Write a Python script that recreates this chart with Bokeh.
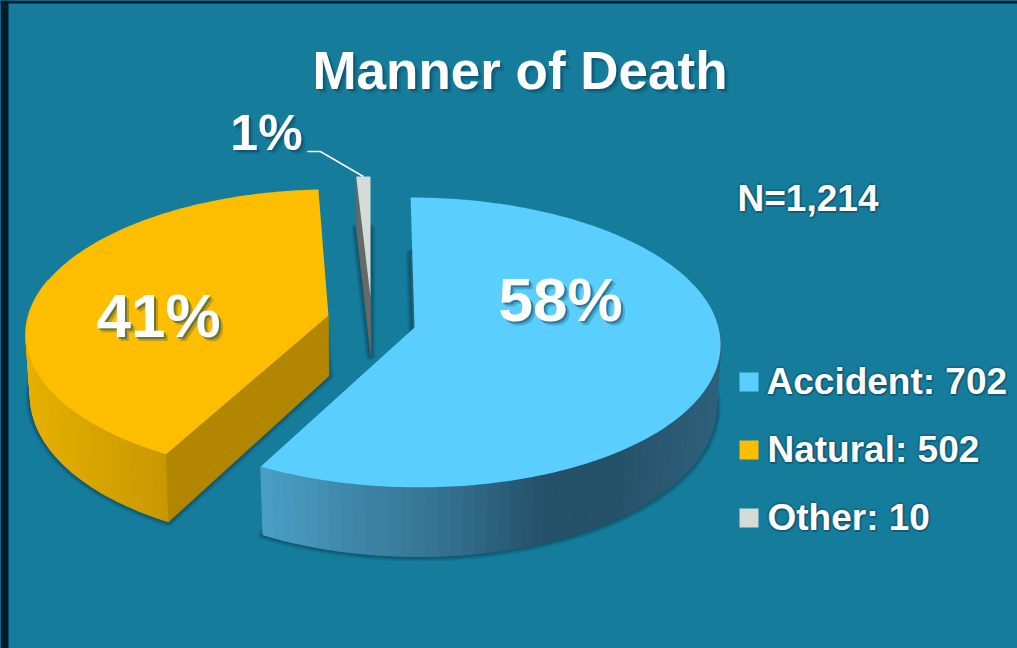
from bokeh.plotting import figure
from bokeh.embed import file_html
from bokeh.resources import INLINE
from bokeh.models import Range1d, GlobalInlineStyleSheet
from bokeh.core.properties import value
import numpy as np

# ---- data ----
title = "Manner of Death"
note = "N=1,214"
categories = ["Accident", "Natural", "Other"]
counts = [702, 502, 10]
percent_labels = ["58%", "41%", "1%"]
legend_labels = ["Accident: 702", "Natural: 502", "Other: 10"]
top_colors = ["#5ACEFF", "#FDBD00", "#D3DCD6"]

BG = "#157C9C"
EDGE = "#001C2C"
FONT = value("Liberation Sans")
W, H = 1017, 648

# ---- projection of the exploded 3D pie (pixel space of the page) ----
geom = {
    "Accident": dict(cx=414, cy=327, rx=304, ry=143.4, k=0.103, shear=0.03, depth=62),
    "Natural":  dict(cx=328, cy=315, rx=300, ry=141.0, k=0.118, shear=-0.03, depth=60.5),
    "Other":    dict(cx=370, cy=297, rx=305, ry=133.5, k=0.103, shear=0.0, depth=58),
}
RING = 0.985


def top_pt(g, t):
    w = 1 + g["k"] * np.cos(t)
    dy = -g["ry"] * np.cos(t) / w
    dx = g["rx"] * np.sin(t) / w + g["shear"] * dy
    return g["cx"] + dx, g["cy"] + dy


def bottom_pt(g, t):
    x, y = top_pt(g, t)
    w = 1 + g["k"] * np.cos(t)
    return g["cx"] + (x - g["cx"]) * RING, y + g["depth"] / w


def hex_rgb(h):
    return np.array([int(h[i:i + 2], 16) for i in (1, 3, 5)], float)


def ramp(stops, x):
    xs = [s[0] for s in stops]
    cols = np.array([hex_rgb(s[1]) for s in stops])
    rgb = [np.interp(x, xs, cols[:, i]) for i in range(3)]
    return "#%02x%02x%02x" % tuple(int(round(c)) for c in rgb)


p = figure(width=W, height=H, x_range=Range1d(0, W), y_range=Range1d(H, 0),
           output_backend="svg", toolbar_location=None, min_border=0,
           background_fill_color=BG, border_fill_color=BG, outline_line_color=None)
p.xaxis.visible = False
p.yaxis.visible = False
p.grid.visible = False
p.stylesheets = [GlobalInlineStyleSheet(css="html,body{margin:0;padding:0;background:%s;overflow:hidden;}" % BG)]

# dark slide edge
p.quad(left=[0], right=[8], top=[0], bottom=[H], fill_color=EDGE, line_color=None)
p.quad(left=[0], right=[W], top=[0], bottom=[3], fill_color=EDGE, line_color=None)

fractions = np.array(counts, float) / sum(counts)
edges = np.concatenate([[0], np.cumsum(fractions)]) * 2 * np.pi
spans = {c: (edges[i], edges[i + 1]) for i, c in enumerate(categories)}

# soft shadows under the lower rings
SHADOW = "#0A3A4F"
for c in categories:
    g = geom[c]
    a, b = spans[c]
    ts = np.linspace(a, b, 90)
    bx, by = bottom_pt(g, ts)
    xs = np.concatenate([[g["cx"]], bx])
    ys = np.concatenate([[g["cy"] + g["depth"]], by])
    for lw, al in ((10, 0.14), (7, 0.22), (4, 0.3)):
        p.patch(xs, ys, fill_alpha=0, line_color=SHADOW, line_alpha=al, line_width=lw, line_join="round")
    p.patch(xs, ys, fill_color="#2A6278", fill_alpha=1, line_color=None)

# outer walls
wall_ramps = {
    "Accident": [(262, "#4A9FC4"), (350, "#3F87AA"), (450, "#33708E"), (540, "#255269"), (620, "#265269"), (720, "#2F617C")],
    "Natural": [(28, "#E6B000"), (165, "#C89800")],
}
wall_windows = {"Accident": (np.radians(85), None), "Natural": (None, np.radians(285))}
for c in ("Natural", "Accident"):
    g = geom[c]
    a, b = spans[c]
    lo, hi = wall_windows[c]
    lo = a if lo is None else lo
    hi = b if hi is None else hi
    ts = np.linspace(lo, hi, 60)
    xsq, ysq, fills = [], [], []
    for t0, t1 in zip(ts[:-1], ts[1:]):
        x0, y0 = top_pt(g, t0)
        x1, y1 = top_pt(g, t1)
        x2, y2 = bottom_pt(g, t1)
        x3, y3 = bottom_pt(g, t0)
        xsq.append([x0, x1, x2, x3])
        ysq.append([y0, y1, y2, y3])
        fills.append(ramp(wall_ramps[c], (x0 + x1) / 2))
    p.patches(xsq, ysq, fill_color=fills, line_color=fills, line_width=1.2)

# radial cut faces that face the viewer
def cut_face(c, t, color):
    g = geom[c]
    x0, y0 = top_pt(g, t)
    x1, y1 = bottom_pt(g, t)
    p.patch([g["cx"], x0, x1, g["cx"] + 0.5], [g["cy"], y0, y1, g["cy"] + g["depth"]],
            fill_color=color, line_color=color, line_width=0.5)


cut_face("Natural", spans["Natural"][0], "#B38600")
cut_face("Other", spans["Other"][0], "#646A6A")

# top faces
for i, c in enumerate(categories):
    g = geom[c]
    a, b = spans[c]
    ts = np.linspace(a, b, 200)
    x, y = top_pt(g, ts)
    p.patch(np.concatenate([[g["cx"]], x]), np.concatenate([[g["cy"]], y]),
            fill_color=top_colors[i], line_color=None)

# leader of the smallest slice
tipx, tipy = top_pt(geom["Other"], spans["Other"][0] + 0.5 * (spans["Other"][1] - spans["Other"][0]))
p.line([tipx - 56, tipx - 43, tipx], [tipy - 25, tipy - 25, tipy], line_color="white", line_width=1.5)


def label(x, y, txt, size, align="center", shadow=(3, 3), halo=False):
    kw = dict(text_font=FONT, text_font_style="bold", text_font_size=size,
              text_align=align, text_baseline="middle")
    if halo:
        for dx, dy in ((-2, 0), (2, 0), (0, -2), (0, 2), (2, 2)):
            p.text([x + dx], [y + dy], text=[txt], text_color="#0B3F55", text_alpha=0.3, **kw)
    else:
        p.text([x + shadow[0] + 1], [y + shadow[1] + 1], text=[txt], text_color="#0B4258", text_alpha=0.25, **kw)
        p.text([x + shadow[0] - 1], [y + shadow[1] - 1], text=[txt], text_color="#0B4258", text_alpha=0.45, **kw)
    p.text([x], [y], text=[txt], text_color="white", **kw)


label(519.5, 70, title, "53px")
label(807.5, 198, note, "37px", halo=True)
label(560, 299, percent_labels[0], "62px")
label(158, 315, percent_labels[1], "62px")
label(266, 132, percent_labels[2], "50px")

legend_y = [381, 449, 517]
legend_x = [766, 767, 767]
for i, lab in enumerate(legend_labels):
    p.rect([748.5], [legend_y[i] + 0.5], width=19, height=19, fill_color=top_colors[i], line_color=None)
    label(legend_x[i], legend_y[i], lab, "37px", align="left", halo=True)

open("out.html", "w").write(file_html(p, INLINE))
